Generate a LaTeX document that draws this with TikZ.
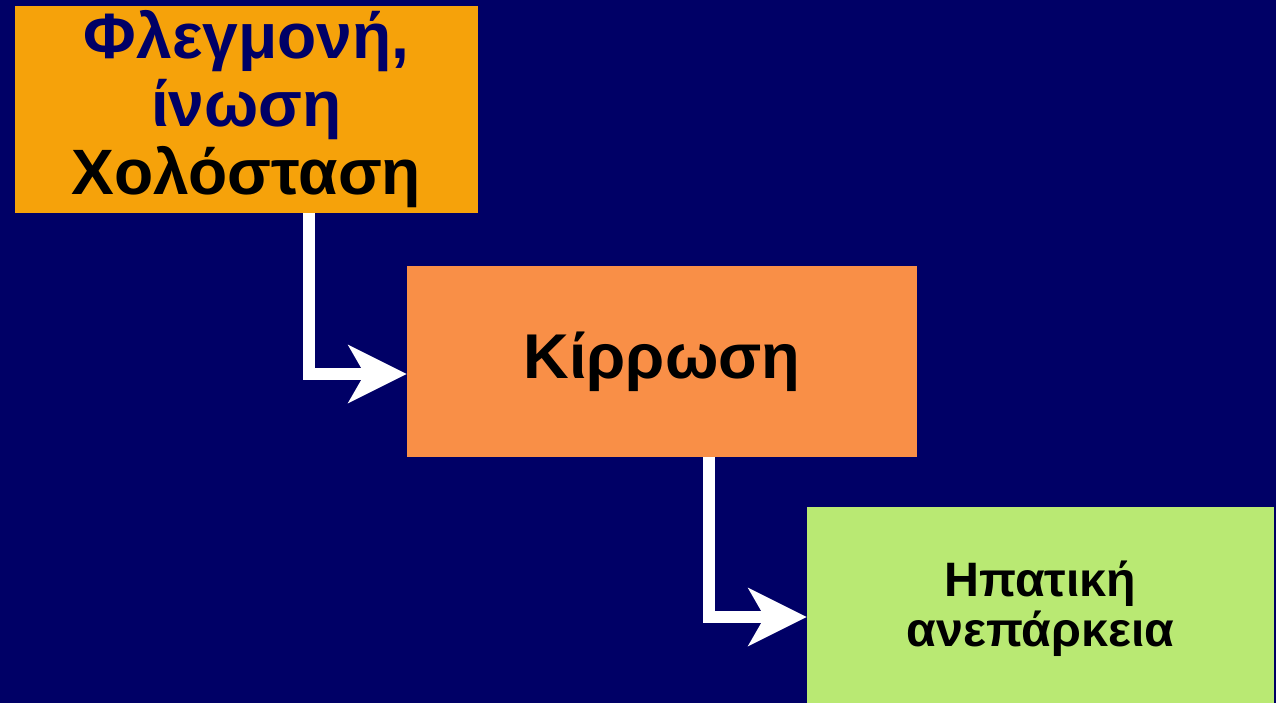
\documentclass[tikz,border=0pt]{standalone}
\usepackage{fontspec}
\setmainfont{Liberation Sans}
\usepackage{xcolor}
\usepackage{tikz}
\usetikzlibrary{arrows.meta, positioning}
\definecolor{fond}{HTML}{000066}
\definecolor{ambre}{HTML}{F6A20A}
\definecolor{saumon}{HTML}{F98F47}
\definecolor{vert}{HTML}{B9E973}

\begin{document}
\begin{tikzpicture}[
    boite/.style={rectangle, inner sep=0pt, align=center, text=black},
    fleche/.style={white, line width=0.24cm,
      -{Stealth[length=1.18cm, width=1.18cm, inset=0.34cm, line width=0pt]}}]
    % Fond
    \fill[fond] (0,0) rectangle (25.52,-14.06);
    \useasboundingbox (0,0) rectangle (25.52,-14.06);
    \clip (0,0) rectangle (25.52,-14.06);
    % Cases
    \node[boite, fill=ambre, minimum width=9.26cm, minimum height=4.14cm,
      font=\fontsize{36.5}{38.7}\selectfont\bfseries] (cause) at (4.93,-2.19)
      {\textcolor{fond}{Φλεγμονή,}\\\textcolor{fond}{ίνωση}\\Χολόσταση};
    \node[boite, fill=saumon, minimum width=10.2cm, minimum height=3.82cm,
      font=\fontsize{36}{40}\selectfont\bfseries] (cirrhose) at (13.24,-7.23)
      {Κίρρωση};
    \node[boite, fill=vert, minimum width=9.34cm, minimum height=4.06cm,
      font=\fontsize{27.5}{28.5}\selectfont\bfseries] (insuff) at (20.81,-12.17)
      {Ηπατική\\ανεπάρκεια};
    % Fleches
    \draw[fleche] ([xshift=1.25cm]cause.south) |- ([yshift=-0.25cm]cirrhose.west);
    \draw[fleche] ([xshift=0.94cm]cirrhose.south) |- ([yshift=-0.17cm]insuff.west);
  \end{tikzpicture}
\end{document}
